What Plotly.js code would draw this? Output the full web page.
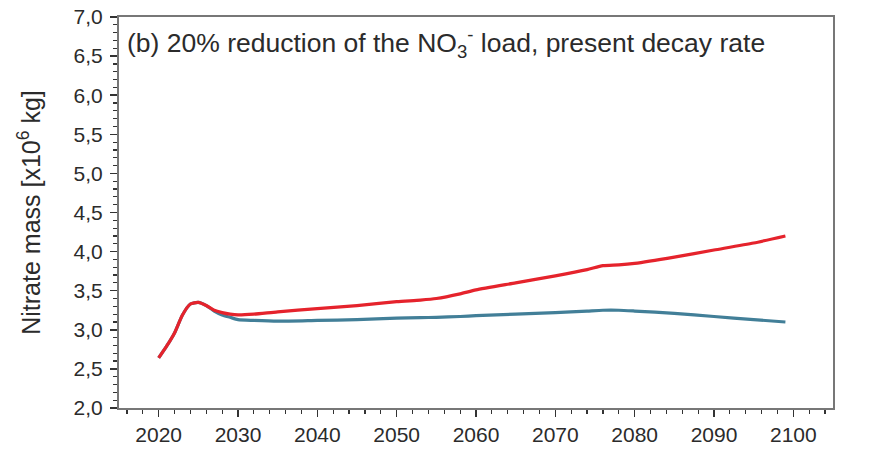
<!DOCTYPE html>
<html>
<head>
<meta charset="utf-8">
<script src="https://cdn.plot.ly/plotly-3.0.1.min.js"></script>
<style>
  html, body { margin: 0; padding: 0; background: #ffffff; }
  #chart { width: 882px; height: 452px; }
</style>
</head>
<body>
<div id="chart"></div>
<script>
// Years of the simulation
const years = [2020, 2021, 2022, 2023, 2024, 2025, 2026, 2027, 2028, 2029, 2030, 2032, 2035,
               2040, 2045, 2050, 2053, 2055, 2058, 2060, 2065, 2070, 2074, 2076, 2078, 2080,
               2085, 2090, 2095, 2099];

// Nitrate mass [x10^6 kg] - red scenario
const redSeries = [2.64, 2.79, 2.96, 3.19, 3.33, 3.35, 3.31, 3.25, 3.22, 3.20, 3.19, 3.20, 3.23,
                   3.27, 3.31, 3.36, 3.38, 3.40, 3.46, 3.51, 3.60, 3.69, 3.77, 3.82, 3.83, 3.85,
                   3.93, 4.02, 4.11, 4.20];

// Nitrate mass [x10^6 kg] - blue scenario
const blueSeries = [2.64, 2.79, 2.96, 3.19, 3.33, 3.35, 3.31, 3.24, 3.19, 3.16, 3.13, 3.12, 3.11,
                    3.12, 3.13, 3.15, 3.155, 3.16, 3.17, 3.18, 3.20, 3.22, 3.24, 3.25, 3.25, 3.24,
                    3.21, 3.17, 3.13, 3.10];

const xTickVals = [2020, 2030, 2040, 2050, 2060, 2070, 2080, 2090, 2100];
const panelTitle = "(b) 20% reduction of the NO<sub>3</sub><sup>-</sup> load, present decay rate";
const yTitle = "Nitrate mass [x10<sup>6</sup> kg]";

const textColor = "#2b2b2b";
const fontFamily = "'Liberation Sans', Arial, sans-serif";

const traces = [
  {
    x: years, y: blueSeries, type: "scatter", mode: "lines",
    line: { color: "#427f98", width: 3.2, shape: "spline", smoothing: 0.6 },
    hoverinfo: "x+y", showlegend: false
  },
  {
    x: years, y: redSeries, type: "scatter", mode: "lines",
    line: { color: "#e5232c", width: 3.2, shape: "spline", smoothing: 0.6 },
    hoverinfo: "x+y", showlegend: false
  }
];

const axisCommon = {
  showline: true, linecolor: "#777777", linewidth: 2, mirror: true,
  showgrid: false, zeroline: false,
  ticks: "outside", ticklen: 7, tickwidth: 1.5, tickcolor: "#333333",
  tickfont: { family: fontFamily, size: 21, color: textColor }
};

const layout = {
  width: 882, height: 452,
  margin: { l: 119, r: 49, t: 17, b: 44 },
  paper_bgcolor: "#ffffff", plot_bgcolor: "#ffffff",
  separators: ", ",
  font: { family: fontFamily, color: textColor },
  showlegend: false,
  xaxis: Object.assign({}, axisCommon, {
    range: [2015, 2105],
    tickmode: "array", tickvals: xTickVals,
    minor: { dtick: 2, tick0: 2000, ticks: "outside", ticklen: 4, tickwidth: 1.2, tickcolor: "#333333", showgrid: false }
  }),
  yaxis: Object.assign({}, axisCommon, {
    range: [2, 7], dtick: 0.5, tick0: 2, tickformat: ".1f",
    ticklabelstandoff: 3,
    minor: { dtick: 0.1, ticks: "outside", ticklen: 4, tickwidth: 1.2, tickcolor: "#333333", showgrid: false },
    title: { text: yTitle, font: { family: fontFamily, size: 25, color: textColor }, standoff: 26 }
  }),
  annotations: [
    {
      text: panelTitle, xref: "paper", yref: "paper",
      x: 0.0084, y: 0.934, xanchor: "left", yanchor: "middle",
      showarrow: false,
      font: { family: fontFamily, size: 26.5, color: textColor }
    }
  ]
};

Plotly.newPlot("chart", traces, layout, { displayModeBar: false, staticPlot: true });
</script>
</body>
</html>
